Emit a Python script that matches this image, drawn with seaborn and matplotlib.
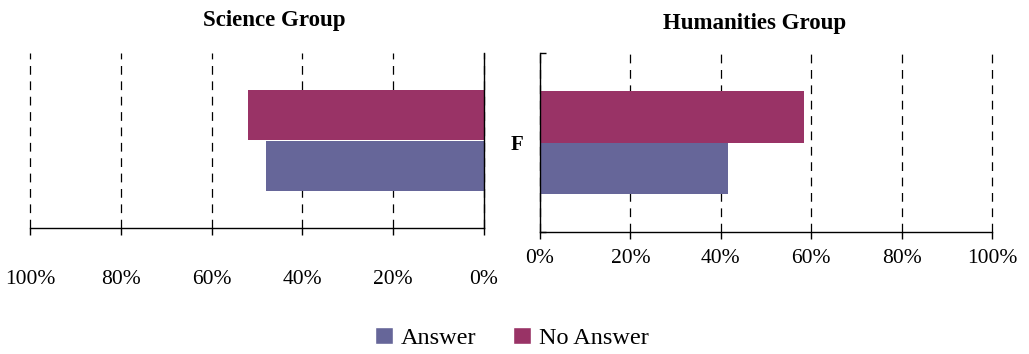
import matplotlib
matplotlib.use("Agg")
import matplotlib.pyplot as plt
from matplotlib.patches import Patch
import seaborn as sns
import pandas as pd

# Survey shares (%) per group
categories = ["F"]
responses = ["No Answer", "Answer"]
science_answer = [48]
science_no_answer = [52]
humanities_answer = [41.5]
humanities_no_answer = [58.5]
tick_values = [0, 20, 40, 60, 80, 100]
tick_labels = ["0%", "20%", "40%", "60%", "80%", "100%"]

colors = {"Answer": "#666699", "No Answer": "#993366"}


def frame(answer, no_answer):
    rows = []
    for i, c in enumerate(categories):
        rows.append({"cat": c, "resp": "No Answer", "share": no_answer[i]})
        rows.append({"cat": c, "resp": "Answer", "share": answer[i]})
    return pd.DataFrame(rows)


sns.set_theme(style="white")
plt.rcParams["font.family"] = ["Liberation Serif", "DejaVu Serif"]
plt.rcParams["text.color"] = "black"
plt.rcParams["xtick.color"] = "black"
plt.rcParams["ytick.color"] = "black"

fig = plt.figure(figsize=(10.29, 3.54), dpi=100)
ax_l = fig.add_axes([30 / 1029, 1 - 228.3 / 354, 454 / 1029, 175.6 / 354])
ax_r = fig.add_axes([540 / 1029, 1 - 232.3 / 354, 452 / 1029, 179.6 / 354])

for ax, (ans, noans) in [(ax_l, (science_answer, science_no_answer)),
                         (ax_r, (humanities_answer, humanities_no_answer))]:
    sns.barplot(data=frame(ans, noans), x="share", y="cat", hue="resp",
                hue_order=responses, palette=colors, orient="h", saturation=1,
                width=0.575, gap=0, linewidth=0, legend=False, ax=ax)
    ax.set_ylim(0.5, -0.5)
    ax.set_xticks(tick_values)
    ax.set_xticklabels(tick_labels, fontsize=15.5, color="black")
    ax.xaxis.grid(True, linestyle=(0, (7, 5.3)), color="black", linewidth=0.9)
    for gl in ax.get_xgridlines():
        gl.set_clip_on(False)
    ax.yaxis.grid(False)
    ax.set_axisbelow(True)
    for p in ax.patches:
        p.set_zorder(3)
    ax.set_xlabel("")
    ax.set_ylabel("")
    ax.tick_params(axis="x", direction="out", length=5, width=1, color="black",
                   bottom=True)
    ax.spines["top"].set_visible(False)
    ax.spines["bottom"].set_color("black")
    ax.spines["bottom"].set_linewidth(1)
    ax.spines["bottom"].set_zorder(4)

# Science panel: reversed axis, spine on the zero side
ax_l.set_xlim(100, 0)
ax_l.spines["left"].set_visible(False)
ax_l.spines["right"].set_visible(True)
ax_l.spines["right"].set_color("black")
ax_l.spines["right"].set_linewidth(1)
ax_l.spines["right"].set_zorder(4)
ax_l.set_yticks([])
ax_l.tick_params(axis="x", pad=25)

# Humanities panel
ax_r.set_xlim(0, 100)
ax_r.spines["right"].set_visible(False)
ax_r.spines["left"].set_color("black")
ax_r.spines["left"].set_linewidth(1)
ax_r.spines["left"].set_zorder(4)
ax_r.set_yticks([0])
ax_r.set_yticklabels(categories, fontsize=15, fontweight="bold", color="black")
ax_r.set_yticks([-0.5, 0.5], minor=True)
ax_r.tick_params(axis="y", which="major", length=0, pad=12)
ax_r.tick_params(axis="y", which="minor", direction="in", length=4,
                 width=1, color="black", left=True)
ax_r.tick_params(axis="x", pad=7)

fig.text(274 / 1029, 1 - 26 / 354, "Science Group", ha="center",
         va="baseline", fontsize=16.5, fontweight="bold", color="black")
fig.text(755 / 1029, 1 - 29 / 354, "Humanities Group", ha="center",
         va="baseline", fontsize=16.5, fontweight="bold", color="black")

handles = [Patch(facecolor=colors["Answer"], label="Answer"),
           Patch(facecolor=colors["No Answer"], label="No Answer")]
fig.legend(handles=handles, loc="center", bbox_to_anchor=(512 / 1029, 1 - 338 / 354),
           ncol=2, frameon=False, fontsize=17.5, handlelength=0.72,
           handleheight=0.72, handletextpad=0.35, columnspacing=1.5,
           borderaxespad=0, borderpad=0, labelcolor="black")

fig.savefig("out.png", dpi=100)
